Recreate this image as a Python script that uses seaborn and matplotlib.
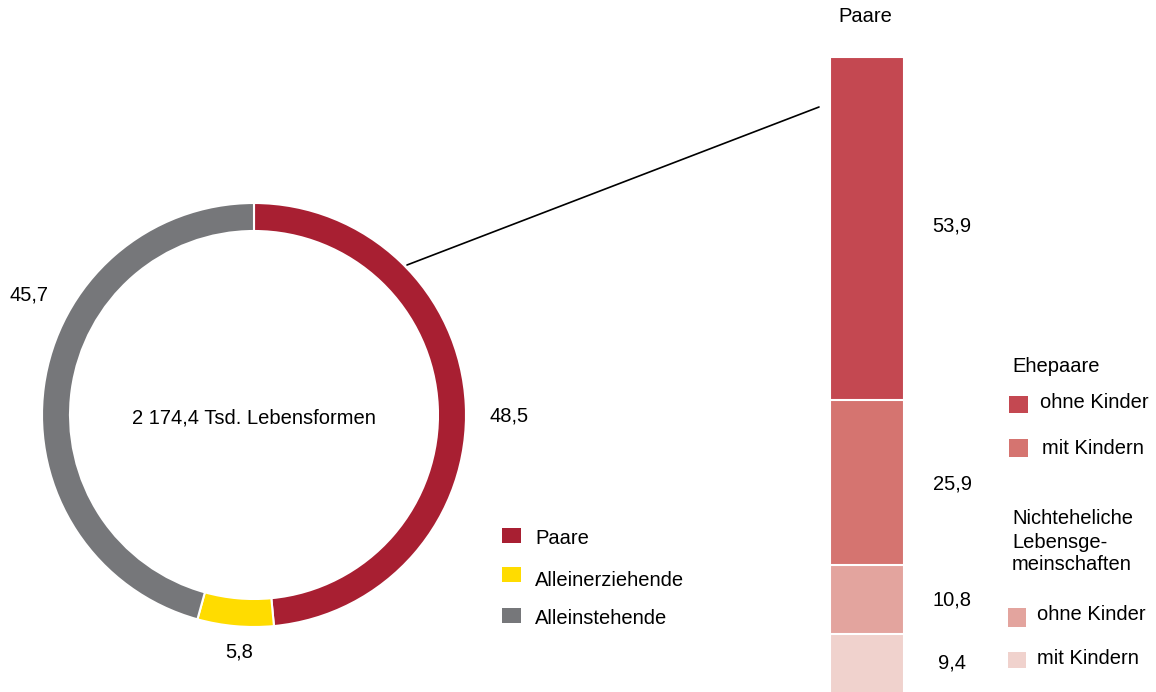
import numpy as np
import pandas as pd
import matplotlib.pyplot as plt
import seaborn as sns
from matplotlib.patches import Rectangle
from matplotlib.lines import Line2D

# Lebensformen (Anteile in %)
ring_labels = ['Paare', 'Alleinerziehende', 'Alleinstehende']
ring_values = [48.5, 5.8, 45.7]
ring_colors = ['#A81F32', '#FFDC00', '#76777A']
total_text = '2 174,4 Tsd. Lebensformen'

# Paare aufgeteilt (von unten nach oben)
bar_labels = ['NEL mit Kindern', 'NEL ohne Kinder', 'Ehepaare mit Kindern', 'Ehepaare ohne Kinder']
bar_values = [9.4, 10.8, 25.9, 53.9]
bar_colors = ['#F0D2CD', '#E3A49E', '#D57470', '#C44851']

W, H = 1156, 692


def px(x, y):
    return x / W, 1 - y / H


def fmt(v):
    return f'{v:.1f}'.replace('.', ',')


sns.set_theme(style='white')
plt.rcParams['font.family'] = ['Liberation Sans', 'DejaVu Sans']
plt.rcParams['text.color'] = 'black'
fs = 14.5

fig = plt.figure(figsize=(W / 100, H / 100), dpi=100)

# Ring
cx, cy, r = 254, 415, 212
ax = fig.add_axes([(cx - r) / W, (H - cy - r) / H, 2 * r / W, 2 * r / H])
ax.pie(ring_values, colors=ring_colors, startangle=90, counterclock=False,
       wedgeprops=dict(width=28 / r, edgecolor='white', linewidth=1.5))
ax.set_xlim(-1, 1)
ax.set_ylim(-1, 1)
ax.axis('off')

fig.text(*px(254, 418), total_text, ha='center', va='center', fontsize=fs)
fig.text(*px(490, 416), fmt(ring_values[0]), ha='left', va='center', fontsize=fs)
fig.text(*px(239, 652), fmt(ring_values[1]), ha='center', va='center', fontsize=fs)
fig.text(*px(9, 295), fmt(ring_values[2]), ha='left', va='center', fontsize=fs)

# Stacked bar (cumulative overlap trick)
top_px, unit = 56.7, 6.37
bot_px = top_px + 100 * unit
axb = fig.add_axes([830 / W, (H - bot_px) / H, 74 / W, (bot_px - top_px) / H])
cum = np.cumsum(bar_values)
for i in range(len(bar_values) - 1, -1, -1):
    df = pd.DataFrame({'g': ['Paare'], 'v': [cum[i]]})
    sns.barplot(data=df, x='g', y='v', color=bar_colors[i], saturation=1,
                width=0.8, edgecolor='white', linewidth=1.5, ax=axb)
axb.set_xlim(-0.4, 0.4)
axb.set_ylim(0, 100)
axb.axis('off')

fig.text(*px(838, 17), 'Paare', ha='left', va='center', fontsize=fs)
bar_label_pos = [(938, 663), (932, 600), (933, 484), (932, 226)]
for v, (x, y) in zip(bar_values, bar_label_pos):
    fig.text(*px(x, y), fmt(v), ha='left', va='center', fontsize=fs)

# connector line
fig.add_artist(Line2D([407 / W, 819 / W], [1 - 265 / H, 1 - 107 / H],
                      color='black', linewidth=1.2, transform=fig.transFigure))


def square(x0, y0, x1, y1, color):
    fig.add_artist(Rectangle((x0 / W, 1 - y1 / H), (x1 - x0) / W, (y1 - y0) / H,
                             facecolor=color, edgecolor='none', transform=fig.transFigure))


# Legend ring
leg_y = [(528, 543, 539), (567, 582, 580), (608, 623, 619)]
for lab, col, (y0, y1, ty) in zip(ring_labels, ring_colors, leg_y):
    square(502, y0, 521, y1, col)
    fig.text(*px(535, ty), lab, ha='left', va='center', fontsize=fs)

# Legend bar
fig.text(*px(1012, 366), 'Ehepaare', ha='left', va='center', fontsize=fs)
square(1009, 396, 1028, 413, bar_colors[3])
fig.text(*px(1040, 403), 'ohne Kinder', ha='left', va='center', fontsize=fs)
square(1009, 439, 1028, 457, bar_colors[2])
fig.text(*px(1042, 448), 'mit Kindern', ha='left', va='center', fontsize=fs)
for txt, y in [('Nichteheliche', 519), ('Lebensge-', 542), ('meinschaften', 565)]:
    fig.text(*px(1012, y), txt, ha='left', va='center', fontsize=fs)
square(1008, 608, 1026, 627, bar_colors[1])
fig.text(*px(1037, 614), 'ohne Kinder', ha='left', va='center', fontsize=fs)
square(1008, 652, 1026, 668, bar_colors[0])
fig.text(*px(1037, 659), 'mit Kindern', ha='left', va='center', fontsize=fs)

fig.savefig('out.png', dpi=100)
plt.close(fig)
